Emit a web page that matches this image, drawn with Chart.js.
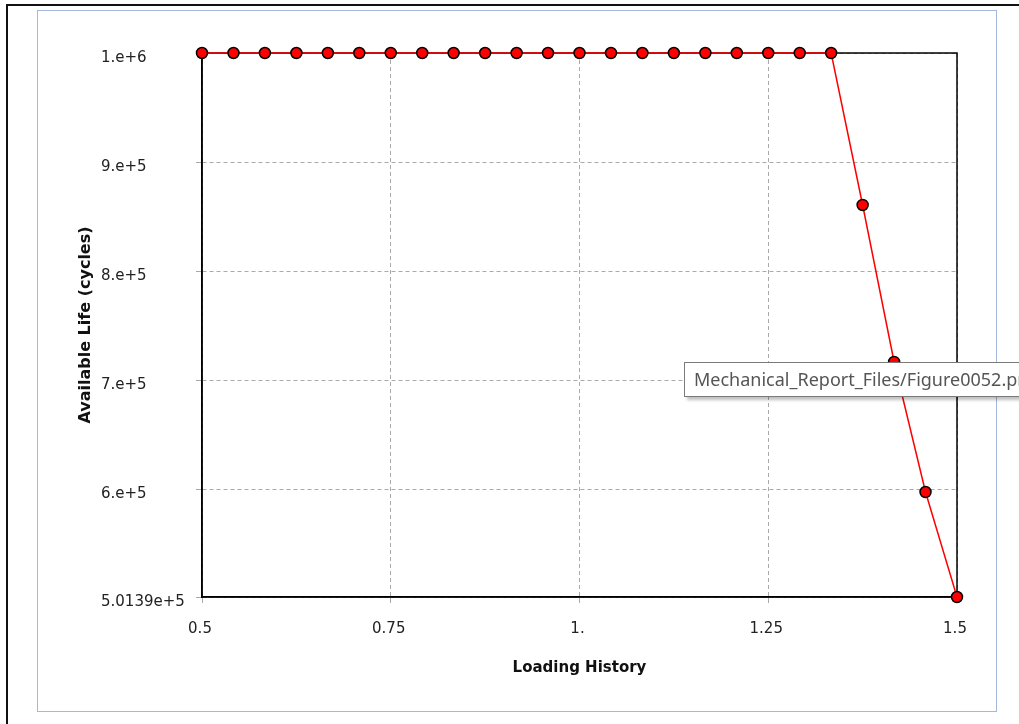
<!DOCTYPE html>
<html>
<head>
<meta charset="utf-8">
<script src="https://cdn.jsdelivr.net/npm/chart.js@4.4.1/dist/chart.umd.min.js"></script>
<style>
  html, body { margin: 0; padding: 0; background: #fff; overflow: hidden; }
  #wrap { position: relative; width: 1019px; height: 724px; overflow: hidden; }
  #outer { position: absolute; left: 6px; top: 4px; width: 1100px; height: 800px;
           border-left: 2px solid #111; border-top: 2px solid #111; }
  #inner { position: absolute; left: 37px; top: 10px; width: 960px; height: 702px;
           box-sizing: border-box; border: 1px solid #a3b8da; }
  canvas { position: absolute; left: 0; top: 0; }
  #tip { position: absolute; left: 684px; top: 362px; height: 35px; width: 420px;
         box-sizing: border-box; background: #fff; border: 1px solid #7a7a7a;
         box-shadow: 3px 3px 3px rgba(0,0,0,0.25);
         font: 18px "Noto Sans", "Open Sans", sans-serif; color: #555;
         padding: 4px 0 0 9px; white-space: nowrap; }
</style>
</head>
<body>
<div id="wrap">
  <div id="outer"></div>
  <div id="inner"></div>
  <canvas id="c" width="1019" height="724"></canvas>
  <div id="tip">Mechanical_Report_Files/Figure0052.png</div>
</div>
<script>
// Fatigue: available life over the loading history.
const loadingHistory = [
  0.5, 0.5417, 0.5833, 0.625, 0.6667, 0.7083, 0.75, 0.7917, 0.8333,
  0.875, 0.9167, 0.9583, 1.0, 1.0417, 1.0833, 1.125, 1.1667, 1.2083,
  1.25, 1.2917, 1.3333, 1.375, 1.4167, 1.4583, 1.5,
];
const availableLife = [
  1e6, 1e6, 1e6, 1e6, 1e6, 1e6, 1e6, 1e6, 1e6,
  1e6, 1e6, 1e6, 1e6, 1e6, 1e6, 1e6, 1e6, 1e6,
  1e6, 1e6, 1e6, 860700, 716800, 597600, 501390,
];
const xTicks = [0.5, 0.75, 1, 1.25, 1.5];
const xTickLabels = ['0.5', '0.75', '1.', '1.25', '1.5'];
const yTicks = [501390, 600000, 700000, 800000, 900000, 1000000];
const yTickLabels = ['5.0139e+5', '6.e+5', '7.e+5', '8.e+5', '9.e+5', '1.e+6'];
const yTitle = 'Available Life (cycles)';

const tickFont = { family: '"DejaVu Sans", sans-serif', size: 15 };
const titleFont = { family: '"DejaVu Sans", sans-serif', size: 15, weight: 'bold' };
const gridGrey = '#aaaaaa';

// black frame round the plot area, drawn under the series
const plotBox = {
  id: 'plot-box',
  beforeDatasetsDraw(chart) {
    const { left, top, right, bottom } = chart.chartArea;
    const ctx = chart.ctx;
    ctx.save();
    ctx.strokeStyle = '#000';
    ctx.lineWidth = 1.5;
    ctx.strokeRect(left, top, right - left, bottom - top);
    ctx.restore();
  },
};

// y title sits left of the left-aligned tick labels, so it is drawn here
const yTitlePlugin = {
  id: 'y-title',
  afterDraw(chart) {
    const { top, bottom } = chart.chartArea;
    const ctx = chart.ctx;
    ctx.save();
    ctx.translate(86, (top + bottom) / 2);
    ctx.rotate(-Math.PI / 2);
    ctx.font = 'bold 16px "DejaVu Sans", sans-serif';
    ctx.fillStyle = '#111';
    ctx.textAlign = 'center';
    ctx.textBaseline = 'middle';
    ctx.fillText(yTitle, 0, 0);
    ctx.restore();
  },
};

const points = loadingHistory.map((x, i) => ({ x, y: availableLife[i] }));

new Chart(document.getElementById('c'), {
  type: 'line',
  data: {
    datasets: [{
      label: 'Available Life',
      data: points,
      parsing: false,
      borderColor: '#ff0000',
      borderWidth: 1.5,
      pointRadius: 5.5,
      pointBackgroundColor: '#ff0000',
      pointBorderColor: '#000',
      pointBorderWidth: 1.5,
      tension: 0,
      clip: false,
    }],
  },
  options: {
    responsive: false, animation: false, events: [],
    layout: { padding: { left: 101, top: 53, right: 62, bottom: 0 } },
    plugins: { legend: { display: false }, tooltip: { enabled: false } },
    scales: {
      x: {
        type: 'linear', min: 0.5, max: 1.5,
        afterBuildTicks: s => { s.ticks = xTicks.map(v => ({ value: v })); },
        afterFit: s => { s.height = 127; },
        ticks: {
          font: tickFont, color: '#222', padding: 17, labelOffset: -2,
          maxRotation: 0, autoSkip: false,
          callback: v => xTickLabels[xTicks.indexOf(v)],
        },
        grid: { color: gridGrey, lineWidth: 1, tickColor: gridGrey, tickLength: 6 },
        border: { display: true, color: '#000', width: 1.5, dash: [4, 3] },
        title: { display: true, text: 'Loading History', font: titleFont, color: '#111',
                 padding: { top: 0, bottom: 47 } },
      },
      y: {
        type: 'linear', min: 501390, max: 1000000,
        afterBuildTicks: s => { s.ticks = yTicks.map(v => ({ value: v })); },
        afterFit: s => { s.width = 101; },
        ticks: {
          font: tickFont, color: '#222', padding: 11, crossAlign: 'far', labelOffset: 5,
          autoSkip: false,
          callback: v => yTickLabels[yTicks.indexOf(v)],
        },
        grid: { color: gridGrey, lineWidth: 1, tickColor: gridGrey, tickLength: 6 },
        border: { display: true, color: '#000', width: 1.5, dash: [4, 3] },
        title: { display: false },
      },
    },
  },
  plugins: [plotBox, yTitlePlugin],
});
</script>
</body>
</html>
